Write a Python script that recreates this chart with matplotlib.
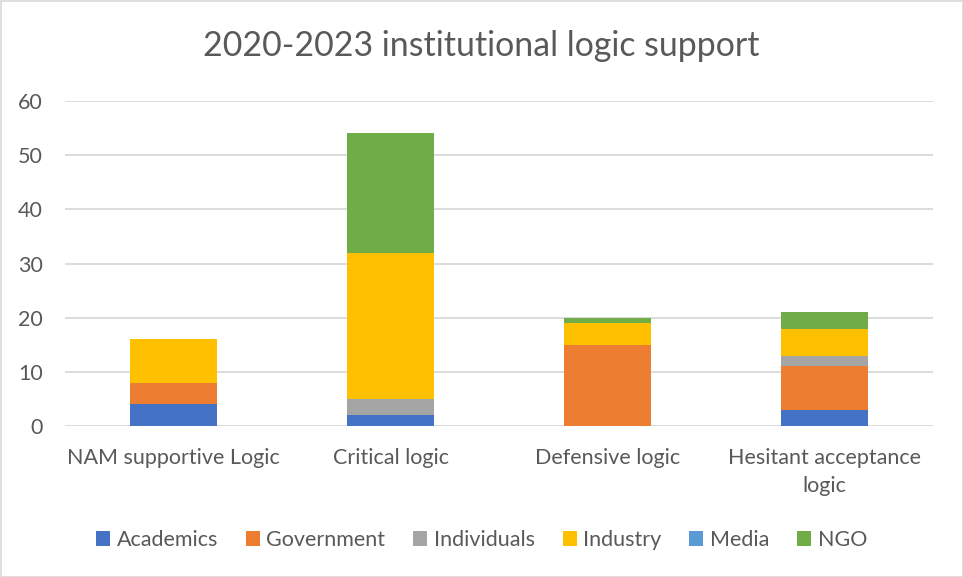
import matplotlib
matplotlib.use("Agg")
import matplotlib.pyplot as plt
from matplotlib.patches import Rectangle
import numpy as np

categories = ["NAM supportive Logic", "Critical logic", "Defensive logic", "Hesitant acceptance\nlogic"]
series_names = ["Academics", "Government", "Individuals", "Industry", "Media", "NGO"]
academics = [4, 2, 0, 3]
government = [4, 0, 15, 8]
individuals = [0, 3, 0, 2]
industry = [8, 27, 4, 5]
media = [0, 0, 0, 0]
ngo = [0, 22, 1, 3]
colors = ["#4472C4", "#ED7D31", "#A5A5A5", "#FFC000", "#5B9BD5", "#70AD47"]

plt.rcParams['font.family'] = ['Lato', 'DejaVu Sans']

fig = plt.figure(figsize=(9.63, 5.77), dpi=100)
ax = fig.add_axes([65/963, 1-426/577, 868/963, 325/577])

x = np.arange(len(categories))
bottom = np.zeros(len(categories))
handles = []
for name, vals, c in zip(series_names, [academics, government, individuals, industry, media, ngo], colors):
    v = np.array(vals, dtype=float)
    b = ax.bar(x, v, 0.4, bottom=bottom, color=c, label=name, zorder=3)
    handles.append(b)
    bottom += v

ax.set_xlim(-0.5, len(categories) - 0.5)
ax.set_ylim(0, 60)
ax.set_yticks(range(0, 61, 10))
ax.yaxis.grid(True, color="#D9D9D9", linewidth=1.3, zorder=0)
ax.set_axisbelow(True)
for s in ax.spines.values():
    s.set_visible(False)
ax.tick_params(axis='both', length=0, labelsize=15.5, labelcolor="#595959")
ax.tick_params(axis='y', pad=16)
ax.tick_params(axis='x', pad=16)
ax.set_xticks(x)
ax.set_xticklabels(categories, linespacing=1.5)

fig.text(0.5, 1-46/577, "2020-2023 institutional logic support", ha='center', va='center',
         fontsize=24.4, color="#595959")

leg = fig.legend(handles=handles, labels=series_names, loc='center', bbox_to_anchor=(0.5, 1-540/577),
                 ncol=6, frameon=False, fontsize=15.5, handlelength=0.65, handleheight=0.65,
                 handletextpad=0.3, columnspacing=1.3, labelcolor="#595959")

fig.patches.append(Rectangle((0.5/963, 0.5/577), 1-1/963, 1-1/577, transform=fig.transFigure,
                             fill=False, edgecolor="#D9D9D9", linewidth=1.2))

fig.savefig("out.png", dpi=100)
